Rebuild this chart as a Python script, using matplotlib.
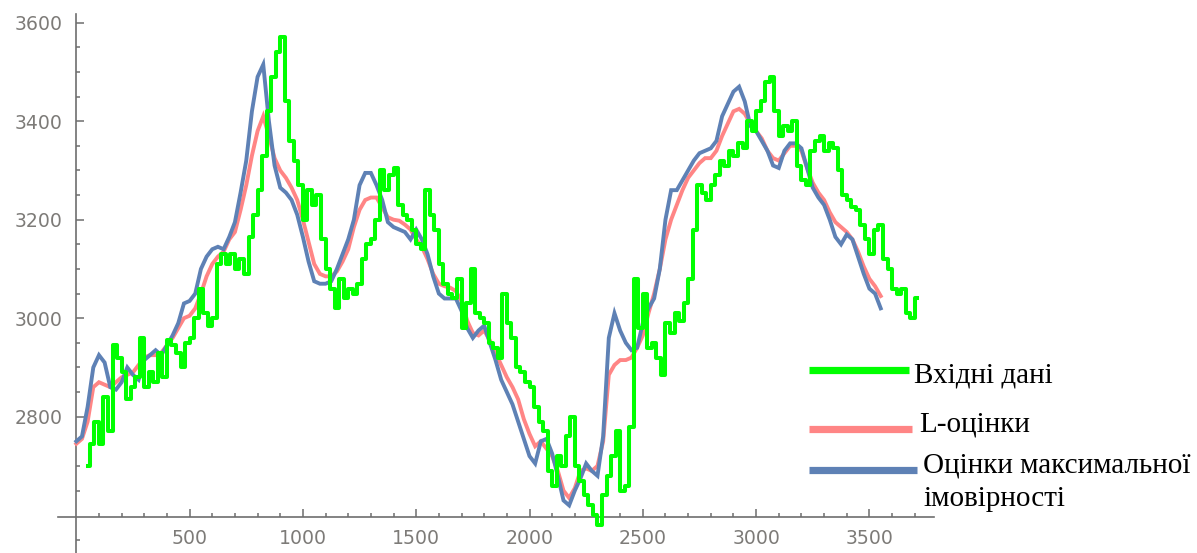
import numpy as np
import matplotlib
matplotlib.use("Agg")
import matplotlib.pyplot as plt
from matplotlib.ticker import FixedLocator, FuncFormatter

# ---------------- data ----------------
green_x = np.arange(50, 3711, 20)
green_y = [
    2700, 2745, 2790, 2745, 2840, 2770, 2945, 2920, 2890, 2835,
    2860, 2880, 2960, 2860, 2890, 2870, 2930, 2880, 2955, 2945,
    2930, 2900, 2950, 2960, 3000, 3060, 3010, 2985, 3000, 3110,
    3130, 3110, 3130, 3100, 3120, 3090, 3165, 3210, 3260, 3330,
    3420, 3490, 3540, 3570, 3440, 3360, 3320, 3270, 3200, 3260,
    3230, 3250, 3160, 3100, 3060, 3020, 3080, 3040, 3060, 3050,
    3070, 3120, 3150, 3160, 3200, 3300, 3260, 3290, 3305, 3230,
    3210, 3200, 3180, 3150, 3140, 3260, 3210, 3180, 3110, 3070,
    3050, 3040, 3080, 2980, 3030, 3100, 3010, 3000, 2990, 2950,
    2940, 2920, 3050, 2990, 2960, 2900, 2890, 2870, 2860, 2820,
    2790, 2770, 2690, 2660, 2720, 2700, 2760, 2800, 2700, 2670,
    2640, 2620, 2600, 2580, 2640, 2680, 2720, 2770, 2650, 2660,
    2780, 3080, 2980, 3050, 2940, 2950, 2920, 2885, 2990, 2970,
    3010, 2995, 3030, 3080, 3180, 3270, 3255, 3240, 3270, 3290,
    3320, 3310, 3340, 3330, 3355, 3345, 3400, 3380, 3420, 3440,
    3480, 3490, 3420, 3370, 3390, 3380, 3400, 3310, 3280, 3270,
    3340, 3360, 3370, 3340, 3355, 3345, 3300, 3250, 3240, 3225,
    3220, 3190, 3160, 3130, 3180, 3190, 3120, 3100, 3060, 3050,
    3060, 3010, 3000, 3040,
]

est_x = np.arange(0, 3551, 25)
l_est_y = [
    2745, 2755, 2790, 2860, 2870, 2865, 2860, 2870, 2880, 2885,
    2890, 2905, 2920, 2925, 2925, 2930, 2945, 2960, 2980, 3000,
    3005, 3020, 3050, 3085, 3110, 3125, 3135, 3160, 3175, 3220,
    3270, 3330, 3380, 3410, 3370, 3325, 3300, 3285, 3265, 3240,
    3200, 3155, 3110, 3090, 3085, 3085, 3095, 3115, 3140, 3185,
    3220, 3240, 3245, 3245, 3225, 3205, 3200, 3198, 3190, 3180,
    3160, 3145, 3120, 3090, 3070, 3065, 3062, 3055, 3035, 2995,
    2970, 2965, 2975, 2955, 2930, 2905, 2880, 2860, 2835, 2795,
    2765, 2740, 2750, 2735, 2720, 2690, 2650, 2635, 2655, 2690,
    2695, 2690, 2700, 2750, 2885, 2905, 2915, 2915, 2920, 2940,
    2965, 3010, 3050, 3100, 3160, 3200, 3230, 3260, 3285, 3300,
    3315, 3325, 3325, 3340, 3370, 3395, 3420, 3425, 3415, 3395,
    3380, 3365, 3340, 3325, 3320, 3335, 3350, 3350, 3340, 3305,
    3275, 3255, 3240, 3215, 3195, 3185, 3175, 3160, 3135, 3105,
    3080, 3065, 3045,
]
ml_est_y = [
    2750, 2760, 2820, 2900, 2925, 2910, 2860, 2855, 2870, 2900,
    2885, 2875, 2915, 2925, 2935, 2925, 2945, 2965, 2990, 3030,
    3035, 3050, 3100, 3125, 3140, 3145, 3140, 3165, 3195, 3255,
    3320, 3420, 3490, 3515, 3400, 3310, 3265, 3255, 3240, 3210,
    3165, 3115, 3075, 3070, 3070, 3075, 3100, 3130, 3160, 3200,
    3270, 3295, 3295, 3270, 3240, 3195, 3185, 3180, 3175, 3160,
    3180, 3160, 3130, 3085, 3050, 3040, 3040, 3040, 3015, 2980,
    2960, 2975, 2985, 2950, 2915, 2875, 2850, 2825, 2790, 2755,
    2720, 2705, 2750, 2755, 2725, 2680, 2630, 2620, 2650, 2675,
    2705, 2690, 2680, 2760, 2960, 3010, 2975, 2950, 2935, 2940,
    2990, 3020, 3040, 3100, 3200, 3260, 3260, 3280, 3300, 3320,
    3335, 3340, 3345, 3360, 3410, 3435, 3460, 3470, 3440, 3390,
    3380, 3360, 3340, 3310, 3305, 3340, 3355, 3355, 3345, 3305,
    3265, 3245, 3230, 3200, 3165, 3150, 3170, 3160, 3125, 3090,
    3060, 3050, 3020,
]

x_major = [500, 1000, 1500, 2000, 2500, 3000, 3500]
y_major = [2800, 3000, 3200, 3400, 3600]
legend_labels = ["Вхідні дані", "L-оцінки", "Оцінки максимальної", "імовірності"]

c_green = "#00FF00"
c_red = "#FF8585"
c_blue = "#5E81B5"

# ---------------- figure ----------------
W, H = 1197, 553
fig = plt.figure(figsize=(W / 100, H / 100), dpi=100)
ax = fig.add_axes([0, 0, 1, 1])
ax.patch.set_alpha(0)

# pixel mapping: px = 76.3 + 0.2266*x ; py = 416.7 - 0.4925*(y-2800)
x0px, xscale = 76.3, 0.2266
y0px, yscale = 416.7, 0.4925
ax.set_xlim(-x0px / xscale, (W - x0px) / xscale)
ax.set_ylim(2800 - (H - y0px) / yscale, 2800 + y0px / yscale)

ax.plot(est_x, l_est_y, color=c_red, lw=2.8, solid_joinstyle="miter", zorder=2)
ax.plot(est_x, ml_est_y, color=c_blue, lw=2.8, solid_joinstyle="miter", zorder=3)
ax.plot(green_x, green_y, color=c_green, lw=2.9, drawstyle="steps-mid", zorder=4)

# axes in Mathematica style
axis_col = "#6e6e6e"
for s in ["top", "right"]:
    ax.spines[s].set_visible(False)
ax.spines["left"].set_position(("data", 0))
ax.spines["bottom"].set_position(("data", 2597))
ax.spines["left"].set_bounds(ax.get_ylim()[0], 3617)
ax.spines["bottom"].set_bounds(-80, 3785)
for s in ["left", "bottom"]:
    ax.spines[s].set_color(axis_col)
    ax.spines[s].set_linewidth(1.2)
    ax.spines[s].set_zorder(1)

ax.set_xticks(x_major)
ax.set_yticks(y_major)
ax.xaxis.set_minor_locator(FixedLocator([v for v in range(100, 3701, 100) if v % 500]))
ax.yaxis.set_minor_locator(FixedLocator([v for v in range(2550, 3601, 50) if v % 200]))
ax.tick_params(which="both", direction="in", color=axis_col, width=1.1,
               labelsize=13.6, labelcolor="#7d7b78")
ax.tick_params(which="major", length=5.5)
ax.tick_params(which="minor", length=3)
ax.tick_params(axis="x", which="major", pad=9)
ax.tick_params(axis="y", which="major", pad=10)
ax.xaxis.set_major_formatter(FuncFormatter(lambda v, p: f"{int(v)}"))
ax.yaxis.set_major_formatter(FuncFormatter(lambda v, p: f"{int(v)}"))

# ---------------- legend (manual) ----------------
def fx(px):
    return px / W

def fy(py):
    return 1 - py / H

leg_cols = [c_green, c_red, c_blue]
leg_line_y = [369.7, 429, 470.3]
leg_line_x1 = [909.3, 911.7, 916.7]
for col, ly, lx1 in zip(leg_cols, leg_line_y, leg_line_x1):
    ax.plot([fx(809.3), fx(lx1)], [fy(ly), fy(ly)], color=col, lw=5.2,
            solid_capstyle="butt", transform=ax.transAxes, clip_on=False, zorder=5)

leg_text_x = [914, 919, 923, 923]
leg_text_base = [383, 431.5, 472, 506]
for tx, tb, lab in zip(leg_text_x, leg_text_base, legend_labels):
    ax.text(fx(tx), fy(tb), lab, transform=ax.transAxes, ha="left", va="baseline",
            fontsize=21, family=["Liberation Serif", "DejaVu Serif"], color="black",
            zorder=6)

fig.savefig("out.png", dpi=100)
